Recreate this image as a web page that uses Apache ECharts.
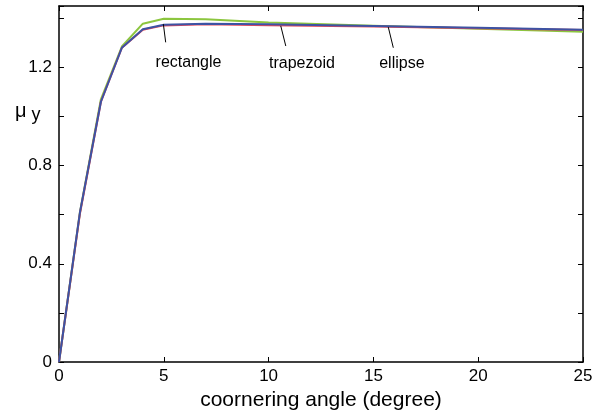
<!DOCTYPE html>
<html>
<head>
<meta charset="utf-8">
<script src="https://cdn.jsdelivr.net/npm/echarts@6/dist/echarts.min.js"></script>
<style>
  html, body { margin: 0; padding: 0; background: #fff; }
  #chart { width: 602px; height: 414px; }
</style>
</head>
<body>
<div id="chart"></div>
<script>
// Lateral friction coefficient vs. cornering angle for three contact-patch shapes
const angles    = [0, 1, 2, 3, 4, 5, 7, 10, 15, 20, 25];
const rectangle = [0, 0.610, 1.070, 1.285, 1.378, 1.398, 1.396, 1.383, 1.370, 1.357, 1.345];
const trapezoid = [0, 0.605, 1.060, 1.280, 1.353, 1.371, 1.376, 1.372, 1.366, 1.359, 1.352];
const ellipse   = [0, 0.610, 1.060, 1.280, 1.355, 1.374, 1.378, 1.376, 1.369, 1.361, 1.353];

const yTickLabels = ['0', '0.4', '0.8', '1.2'];

// Leader lines (data space) and label anchors for the curve annotations
const leaders = [
  { name: 'rectangle', from: [4.98, 1.376], to: [5.09, 1.302], text: [6.18, 1.220] },
  { name: 'trapezoid', from: [10.58, 1.369], to: [10.82, 1.287], text: [11.59, 1.215] },
  { name: 'ellipse',   from: [15.71, 1.364], to: [15.95, 1.280], text: [16.36, 1.214] }
];

const pairs = ys => angles.map((x, i) => [x, ys[i]]);
const FONT = 'Liberation Sans, Arial, sans-serif';

const chart = echarts.init(document.getElementById('chart'), null, { renderer: 'canvas' });

const axisLine = { show: true, onZero: false, lineStyle: { color: '#000', width: 1.5 } };
const tick = { show: true, inside: true, length: 5, lineStyle: { color: '#000', width: 1 } };

chart.setOption({
  animation: false,
  backgroundColor: '#fff',
  grid: { left: 59, right: 19, top: 6, bottom: 52, containLabel: false, outerBoundsMode: 'none' },
  xAxis: [
    {
      type: 'value', min: 0, max: 25, interval: 5, position: 'bottom',
      axisLine, axisTick: tick, splitLine: { show: false },
      axisLabel: { color: '#000', fontSize: 17, fontFamily: FONT, margin: 6 },
      name: 'coornering angle (degree)', nameLocation: 'middle', nameGap: 27,
      nameTextStyle: { color: '#000', fontSize: 21, fontFamily: FONT }
    },
    {
      type: 'value', min: 0, max: 25, interval: 5, position: 'top',
      axisLine, axisTick: tick, splitLine: { show: false }, axisLabel: { show: false }
    }
  ],
  yAxis: [
    {
      type: 'value', min: 0, max: 1.45, interval: 0.2, position: 'left',
      axisLine, axisTick: tick, splitLine: { show: false },
      axisLabel: {
        color: '#000', fontSize: 17, fontFamily: FONT, margin: 7,
        formatter: v => {
          const s = String(Math.round(v * 10) / 10);
          return yTickLabels.includes(s) ? s : '';
        }
      }
    },
    {
      type: 'value', min: 0, max: 1.45, interval: 0.2, position: 'right',
      axisLine, axisTick: tick, splitLine: { show: false }, axisLabel: { show: false }
    }
  ],
  graphic: [
    {
      type: 'text', left: 15, top: 101,
      style: {
        text: '{m|μ}{s| y}',
        rich: {
          m: { fontSize: 20, fontFamily: FONT, fill: '#000' },
          s: { fontSize: 18, fontFamily: FONT, fill: '#000', padding: [8, 0, 0, 0] }
        }
      }
    }
  ],
  series: [
    {
      name: 'rectangle', type: 'line', data: pairs(rectangle),
      showSymbol: false, symbol: 'none', lineStyle: { color: '#8cc63f', width: 2 }, z: 2
    },
    {
      name: 'trapezoid', type: 'line', data: pairs(trapezoid),
      showSymbol: false, symbol: 'none', lineStyle: { color: '#e8485a', width: 2 }, z: 3
    },
    {
      name: 'ellipse', type: 'line', data: pairs(ellipse),
      showSymbol: false, symbol: 'none', lineStyle: { color: '#3d53a3', width: 2 }, z: 4,
      markLine: {
        silent: true, symbol: 'none', animation: false,
        lineStyle: { color: '#000', width: 1, type: 'solid' },
        label: { show: false },
        data: leaders.map(l => [{ coord: l.from }, { coord: l.to }])
      },
      markPoint: {
        silent: true, symbol: 'circle', symbolSize: 0, animation: false,
        label: {
          show: true, position: 'inside', color: '#000',
          fontSize: 16, fontFamily: FONT, formatter: p => p.name
        },
        data: leaders.map(l => ({ name: l.name, coord: l.text }))
      }
    }
  ]
});
</script>
</body>
</html>
